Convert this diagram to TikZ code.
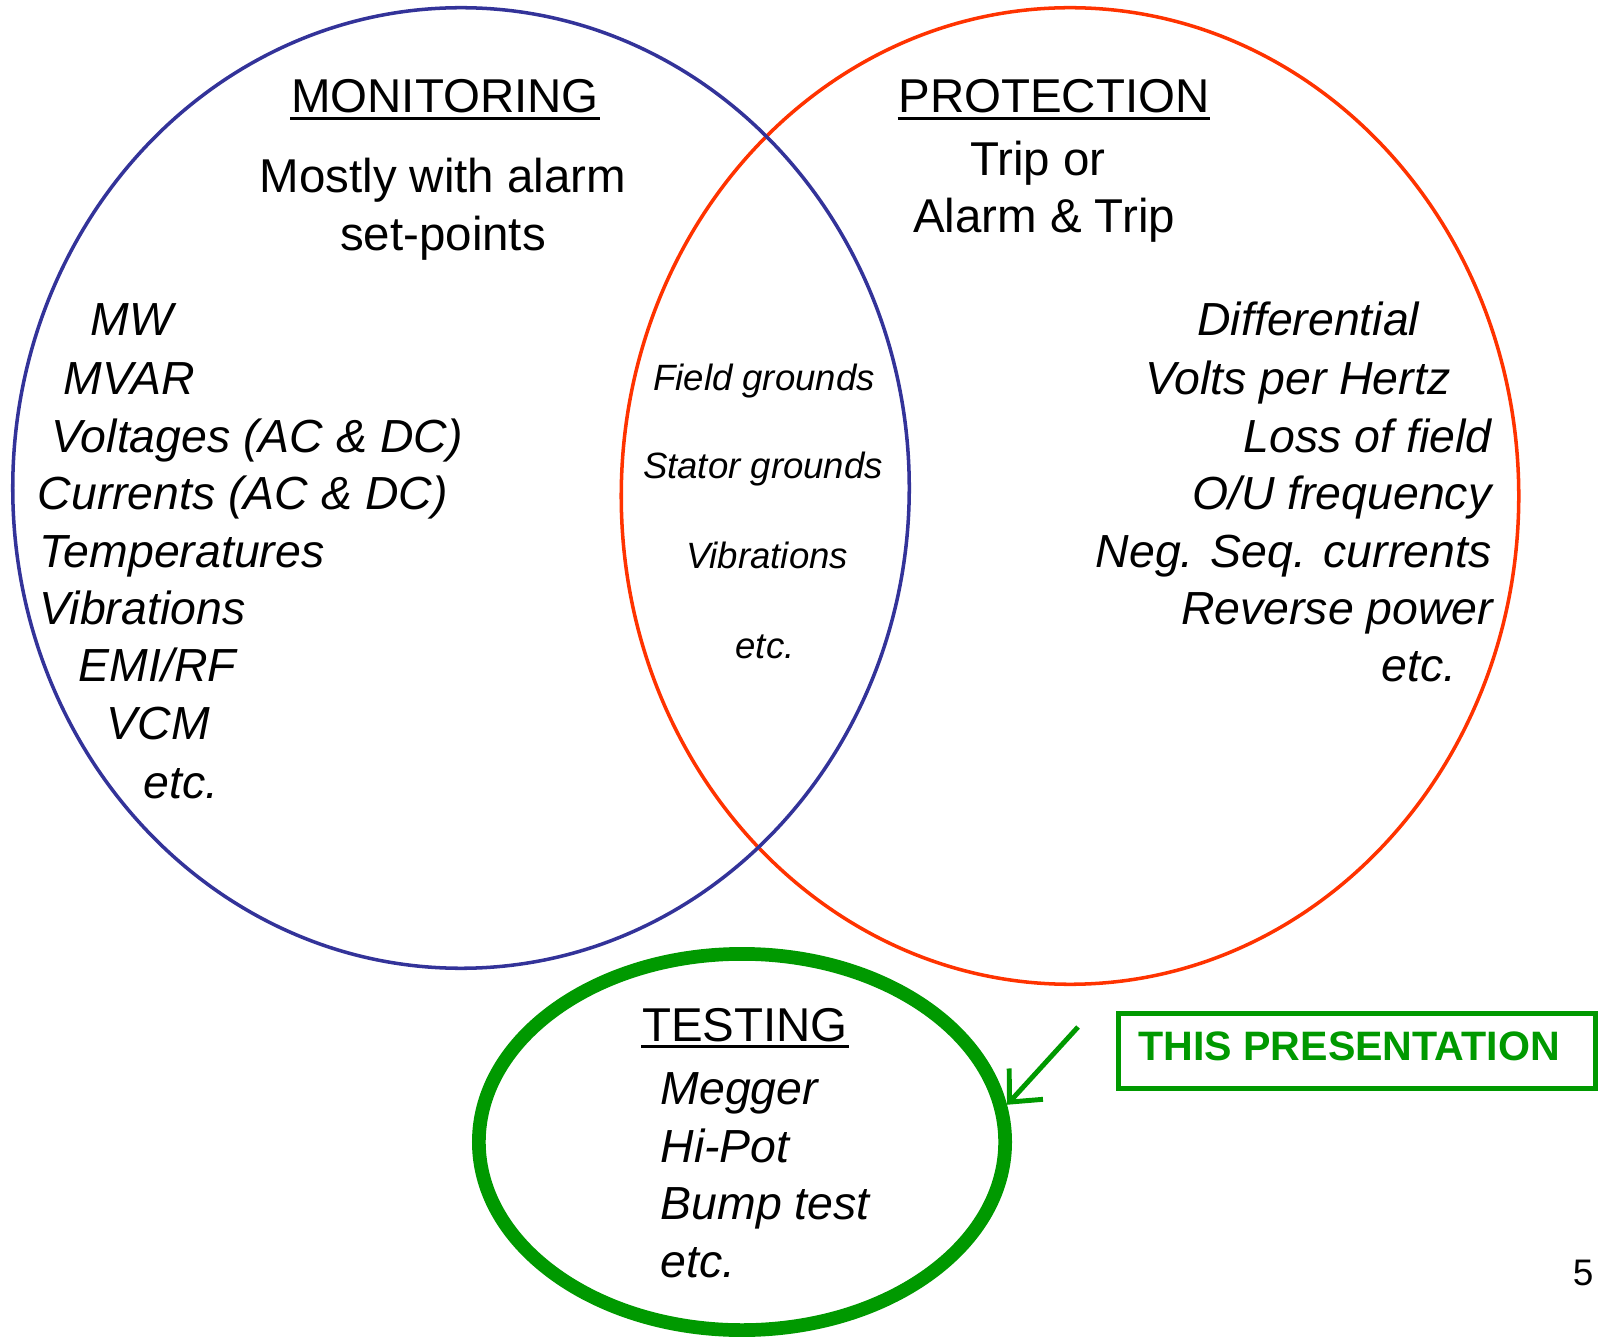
\documentclass[tikz,border=0pt]{standalone}
\usepackage{fontspec}
\setmainfont{Liberation Sans}
\usetikzlibrary{shapes.geometric,arrows.meta}
\definecolor{vennblue}{RGB}{51,51,153}
\definecolor{vennred}{RGB}{255,51,0}
\definecolor{venngreen}{RGB}{0,153,0}

\begin{document}
\begin{tikzpicture}[x=0.01cm,y=-0.01cm,
  venn/.style={ellipse,draw,inner sep=0pt},
  big/.style={inner sep=0pt,font=\fontsize{13.5}{16}\selectfont},
  lst/.style={inner sep=0pt,font=\fontsize{13.2}{16}\selectfont\itshape},
  mid/.style={inner sep=0pt,anchor=base,font=\fontsize{10.4}{12}\selectfont\itshape},
  uline/.style={line width=0.85pt}]
\useasboundingbox (0,0) rectangle (1600,1340);

\node [venn,draw=vennred,line width=1pt,minimum width=8.97cm,minimum height=9.76cm] (pro) at (1070,496) {};
\node [venn,draw=vennblue,line width=1pt,minimum width=8.96cm,minimum height=9.6cm] (mon) at (461,488) {};
\node [venn,draw=venngreen,line width=3.9pt,minimum width=5.26cm,minimum height=3.76cm] (tst) at (742,1142) {};

\node [big,anchor=base] (monhead) at (445,113) {MONITORING};
\draw [uline] ([yshift=-1.6pt]monhead.base west) -- ([yshift=-1.6pt]monhead.base east);
\node [big,anchor=base] (mona) at (443,193) {Mostly with alarm};
\node [big,anchor=base] (monb) at (443,251) {set-points};

\node [lst,anchor=base west] (mw) at (90,336) {MW};
\node [lst,anchor=base west] (mvar) at (63,395) {MVAR};
\node [lst,anchor=base west] (volt) at (51,453) {Voltages (AC \& DC)};
\node [lst,anchor=base west] (curr) at (37,510) {Currents (AC \& DC)};
\node [lst,anchor=base west] (temp) at (39,568) {Temperatures};
\node [lst,anchor=base west] (vib) at (39,625) {Vibrations};
\node [lst,anchor=base west] (emi) at (78,682) {EMI/RF};
\node [lst,anchor=base west] (vcm) at (106,739) {VCM};
\node [lst,anchor=base west] (monetc) at (143,798) {etc.};

\node [big,anchor=base] (prohead) at (1054,113) {PROTECTION};
\draw [uline] ([yshift=-1.6pt]prohead.base west) -- ([yshift=-1.6pt]prohead.base east);
\node [big,anchor=base] (proa) at (1038,176) {Trip or};
\node [big,anchor=base] (prob) at (1044,233) {Alarm \& Trip};

\node [lst,anchor=base east] (diff) at (1420,336) {Differential};
\node [lst,anchor=base east] (vph) at (1451,395) {Volts per Hertz};
\node [lst,anchor=base east] (lof) at (1492,453) {Loss of field};
\node [lst,anchor=base east] (ouf) at (1492,510) {O/U frequency};
\node [lst,anchor=base east] (nsc) at (1492,568) {Neg. Seq. currents};
\node [lst,anchor=base east] (rev) at (1494,625) {Reverse power};
\node [lst,anchor=base east] (proetc) at (1457,682) {etc.};

\node [mid] (fld) at (764,391) {Field grounds};
\node [mid] (sta) at (763,479) {Stator grounds};
\node [mid] (midvib) at (767,569) {Vibrations};
\node [mid] (midetc) at (765,659) {etc.};

\node [big,anchor=base] (tsthead) at (745,1041) {TESTING};
\draw [uline] ([yshift=-1.6pt]tsthead.base west) -- ([yshift=-1.6pt]tsthead.base east);
\node [lst,anchor=base west] (meg) at (660,1104) {Megger};
\node [lst,anchor=base west] (hip) at (660,1162) {Hi-Pot};
\node [lst,anchor=base west] (bump) at (660,1219) {Bump test};
\node [lst,anchor=base west] (tstetc) at (660,1277) {etc.};

\node [draw=venngreen,line width=1.4pt,minimum width=4.77cm,minimum height=0.75cm,inner sep=0pt] (pres) at (1357,1051) {};
\node [inner sep=0pt,text=venngreen,font=\fontsize{11.7}{13}\selectfont\bfseries] (prestext) at (1349,1046) {THIS PRESENTATION};
\coordinate (arrtail) at (1078,1027);
\draw [venngreen,line width=1.4pt,-{Straight Barb[length=7pt,width=13pt]}] (arrtail) -- (tst.8);

\node [inner sep=0pt,anchor=base,font=\fontsize{10.5}{12}\selectfont] (pg) at (1583,1285) {5};
\end{tikzpicture}
\end{document}
